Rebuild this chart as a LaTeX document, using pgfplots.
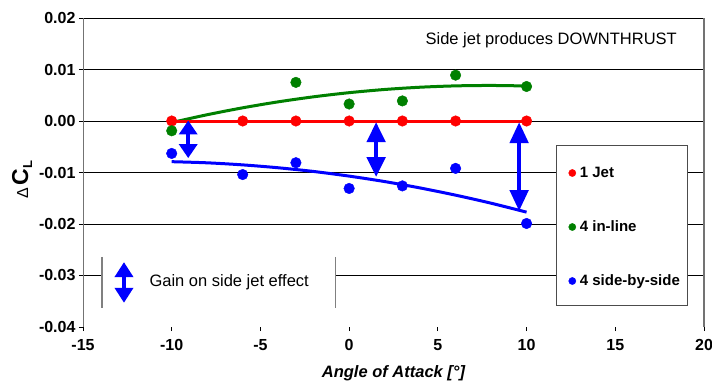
\documentclass[border=0pt]{standalone}
\usepackage{fontspec}
\setmainfont{Liberation Sans}
\usepackage{pgfplots}
\pgfplotsset{compat=1.18}
\usetikzlibrary{arrows.meta}
\definecolor{xred}{RGB}{255,0,0}
\definecolor{xgreen}{RGB}{0,128,0}
\definecolor{xblue}{RGB}{0,0,255}
\tikzset{garr/.style={xblue, line width=4.5bp, {Triangle[width=18bp,length=#1]}-{Triangle[width=18bp,length=#1]}}}
\begin{document}
\begin{tikzpicture}
\useasboundingbox (0,0) rectangle (712bp,385bp);
\begin{axis}[
  at={(83bp,58bp)}, anchor=south west,
  scale only axis, width=621bp, height=309bp,
  xmin=-15, xmax=20, ymin=-0.04, ymax=0.02,
  clip=false,
  scaled y ticks=false, scaled x ticks=false,
  axis x line*=bottom, axis y line*=left,
  x axis line style={draw=none},
  y axis line style={draw=black!55, line width=1bp},
  tick align=outside,
  major tick length=4bp,
  tick style={black, line width=0.8bp},
  xtick={-15,-10,-5,0,5,10,15,20},
  xticklabels={-15,-10,-5,0,5,10,15,20},
  ytick={-0.03,-0.02,-0.01,0,0.01,0.02},
  yticklabels={-0.03,-0.02,-0.01,0.00,0.01,0.02},
  extra y ticks={-0.04}, extra y tick labels={-0.04},
  extra y tick style={grid=none},
  ymajorgrids, major grid style={black, line width=0.8bp},
  ticklabel style={font=\fontsize{16bp}{18bp}\selectfont\bfseries},
  xticklabel style={yshift=-5bp},
  xlabel={Angle of Attack [°]},
  xlabel style={at={(axis description cs:0.5,-0.1489)}, anchor=center, font=\fontsize{16.5bp}{18bp}\selectfont\bfseries\itshape},
  ylabel={{\fontsize{16bp}{16bp}\selectfont Δ\,}{\fontsize{23bp}{23bp}\selectfont\bfseries C}\raisebox{-4bp}{\fontsize{13bp}{13bp}\selectfont\bfseries L}},
  ylabel style={at={(axis description cs:-0.0982,0.4757)}, anchor=center},
  legend style={at={(0.7818,0.3236)}, anchor=west, draw=none, fill=none, inner sep=0pt,
    row sep=40bp, column sep=4bp, font=\fontsize{15bp}{17bp}\selectfont\bfseries,
    nodes={inner sep=0pt, text height=11bp, text depth=3bp}},
  legend cell align=left,
  legend image code/.code={\draw[#1, mark size=3.6bp] plot coordinates {(0bp,0bp)};},
]
% legend box and gain box backgrounds
\draw[black!70, line width=1bp, fill=white] (rel axis cs:0.7617,0.5858) rectangle (rel axis cs:0.974,0.0712);
\fill[white] (axis cs:-13.93,-0.0264) rectangle (axis cs:-0.79,-0.0363);
\draw[black!50, line width=1.2bp] (axis cs:-13.93,-0.0264) -- (axis cs:-13.93,-0.0363);
\draw[black!50, line width=1.2bp] (axis cs:-0.79,-0.0264) -- (axis cs:-0.79,-0.0363);
\draw[black!55, line width=1.2bp] (rel axis cs:1,0) -- (rel axis cs:1,1);
\node[anchor=west, font=\fontsize{16.5bp}{18bp}\selectfont] at (axis cs:-11.45,-0.0313) {Gain on side jet effect};
\node[anchor=west, font=\fontsize{16.5bp}{18bp}\selectfont] at (axis cs:4.11,0.0157) {Side jet produces DOWNTHRUST};
% trend lines
\addplot[xgreen, line width=3bp, smooth, forget plot] coordinates {
 (-10,-0.0003) (-8,0.00122) (-6,0.00256) (-4,0.00372) (-2,0.0047) (0,0.0055)
 (2,0.00612) (4,0.00656) (6,0.00682) (8,0.0069) (10,0.0068)};
\addplot[xblue, line width=3bp, smooth, forget plot] coordinates {
 (-10,-0.0079) (-8,-0.00812) (-6,-0.00852) (-4,-0.00908) (-2,-0.0098) (0,-0.0107)
 (2,-0.01176) (4,-0.0130) (6,-0.0144) (8,-0.01596) (10,-0.0177)};
\addplot[xred, line width=3bp, forget plot] coordinates {(-10,0) (10,0)};
% gain arrows
\draw[garr=14bp] (axis cs:-9.07,0.0001) -- (axis cs:-9.07,-0.0072);
\draw[garr=20bp] (axis cs:1.52,-0.0002) -- (axis cs:1.52,-0.0109);
\draw[garr=21bp] (axis cs:9.58,-0.0002) -- (axis cs:9.58,-0.0175);
\draw[garr=15bp] (axis cs:-12.69,-0.0274) -- (axis cs:-12.69,-0.0353);
% data
\addplot[only marks, mark=*, mark size=5.3bp, xred] coordinates {
 (-10,0) (-6,0) (-3,0) (0,0) (3,0) (6,0) (10,0)};
\addlegendentry{1 Jet}
\addplot[only marks, mark=*, mark size=5.3bp, xgreen] coordinates {
 (-10,-0.0019) (-3,0.0075) (0,0.0033) (3,0.0039) (6,0.0089) (10,0.0067)};
\addlegendentry{4 in-line}
\addplot[only marks, mark=*, mark size=5.3bp, xblue] coordinates {
 (-10,-0.0063) (-6,-0.0104) (-3,-0.0081) (0,-0.0131) (3,-0.0126) (6,-0.0092) (10,-0.0199)};
\addlegendentry{4 side-by-side}
\end{axis}
\end{tikzpicture}
\end{document}
